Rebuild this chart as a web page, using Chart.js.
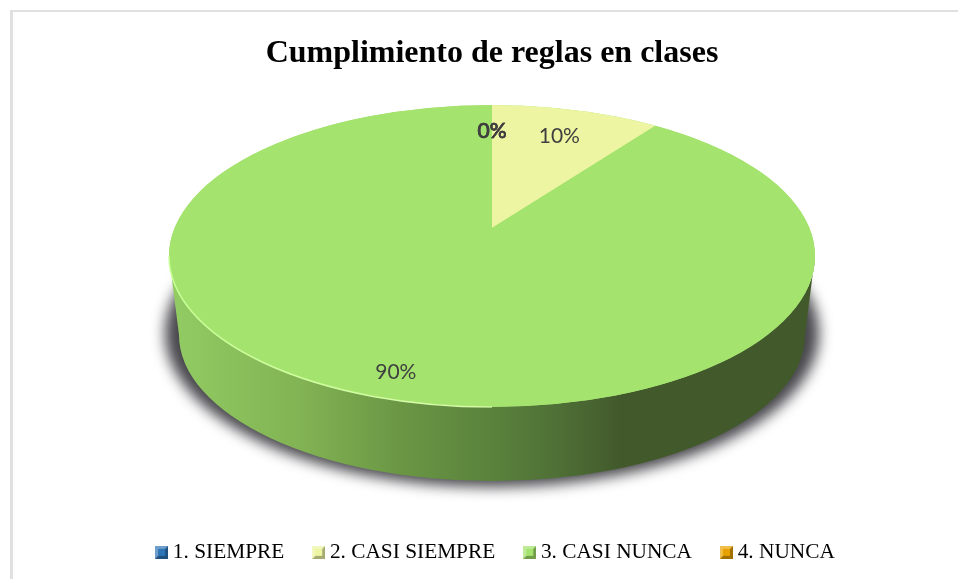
<!DOCTYPE html>
<html>
<head>
<meta charset="utf-8">
<title>Cumplimiento de reglas en clases</title>
<script src="https://cdn.jsdelivr.net/npm/chart.js@4/dist/chart.umd.min.js"></script>
<style>
  html, body { margin: 0; padding: 0; background: #fff; }
  canvas { display: block; }
</style>
</head>
<body>
<canvas id="cuadro" width="958" height="579"></canvas>
<script>
const categorias = ["1. SIEMPRE", "2. CASI SIEMPRE", "3. CASI NUNCA", "4. NUNCA"];
const valores = [0, 10, 90, 0];
const colores = ["#2e75b6", "#edf5a2", "#a4e36d", "#e8a200"];
const titulo = "Cumplimiento de reglas en clases";

// the tilted disc: the apex sits above the centre of the ellipse, like a perspective view
const cara = { cx: 492, cy: 256, rx: 323, ry: 151 };
const base = { cx: 492, cy: 335, rx: 313, ry: 146 };
const apice = { x: 492, y: 228 };
const aplaste = 2.2;

function marcador(color) {
  const c = document.createElement("canvas");
  c.width = 13;
  c.height = 13;
  const g = c.getContext("2d");
  g.fillStyle = color;
  g.fillRect(0, 0, 13, 13);
  g.globalAlpha = 0.3;
  g.fillStyle = "#000";
  g.beginPath(); g.moveTo(13, 0); g.lineTo(13, 13); g.lineTo(0, 13); g.lineTo(3, 10); g.lineTo(10, 10); g.lineTo(10, 3); g.fill();
  g.fillStyle = "#fff";
  g.beginPath(); g.moveTo(0, 0); g.lineTo(13, 0); g.lineTo(10, 3); g.lineTo(3, 3); g.lineTo(3, 10); g.lineTo(0, 13); g.fill();
  g.globalAlpha = 1;
  g.fillStyle = color;
  g.fillRect(3, 3, 7, 7);
  return c;
}
const marcadores = colores.map(marcador);

function elipse(ctx, e) {
  ctx.beginPath();
  ctx.ellipse(e.cx, e.cy, e.rx, e.ry, 0, 0, Math.PI * 2);
}

const pastel3d = {
  id: "pastel3d",
  afterLayout(chart) {
    // the legend sits a little right of the title
    chart.legend.left += 6;
    chart.legend.right += 6;
  },
  beforeDraw(chart) {
    const ctx = chart.ctx;
    ctx.save();
    ctx.fillStyle = "#fff";
    ctx.fillRect(0, 0, chart.width, chart.height);
    ctx.fillStyle = "#e0e0e0";
    ctx.fillRect(10, 10, chart.width - 10, 2);
    ctx.fillRect(10, 10, 3, chart.height - 10);
    ctx.restore();
  },
  beforeDatasetsDraw(chart) {
    const ctx = chart.ctx;
    const a = chart.getDatasetMeta(0).data[0];
    ctx.save();
    // shadow under the disc, the shape itself is drawn off the canvas
    ctx.save();
    ctx.shadowColor = "#47474c";
    ctx.shadowBlur = 14;
    ctx.shadowOffsetX = 2000;
    ctx.fillStyle = "#000";
    elipse(ctx, { cx: base.cx - 2000, cy: 333, rx: base.rx + 14, ry: 154 });
    ctx.fill();
    ctx.restore();
    // side wall
    const grad = ctx.createLinearGradient(170, 0, 815, 0);
    grad.addColorStop(0, "#92cc63");
    grad.addColorStop(0.2, "#82b354");
    grad.addColorStop(0.36, "#6a9644");
    grad.addColorStop(0.5, "#5a823c");
    grad.addColorStop(0.6, "#4f7036");
    grad.addColorStop(0.7, "#42592b");
    grad.addColorStop(1, "#42592b");
    ctx.fillStyle = grad;
    ctx.beginPath();
    ctx.ellipse(base.cx, base.cy, base.rx, base.ry, 0, 0, Math.PI);
    ctx.ellipse(cara.cx, cara.cy, cara.rx, cara.ry, 0, Math.PI, 0, true);
    ctx.closePath();
    ctx.fill();
    // top face, drawn by the library and squashed into the ellipse
    ctx.fillStyle = colores[2];
    elipse(ctx, cara);
    ctx.fill();
    elipse(ctx, cara);
    ctx.clip();
    ctx.translate(apice.x, apice.y);
    ctx.scale(aplaste, 1);
    ctx.translate(-a.x, -a.y);
  },
  afterDatasetsDraw(chart) {
    const ctx = chart.ctx;
    const meta = chart.getDatasetMeta(0);
    ctx.restore();
    // bright rim on the lit side
    const rim = ctx.createLinearGradient(170, 0, 600, 0);
    rim.addColorStop(0, "rgba(200,255,150,1)");
    rim.addColorStop(0.7, "rgba(215,250,170,1)");
    rim.addColorStop(1, "rgba(200,255,150,0)");
    ctx.save();
    ctx.strokeStyle = rim;
    ctx.lineWidth = 1.5;
    ctx.beginPath();
    ctx.ellipse(cara.cx, cara.cy, cara.rx, cara.ry, 0, Math.PI / 2, Math.PI);
    ctx.stroke();
    ctx.restore();
    // labels at 80% of the way from apex to rim, pushed down a bit towards the viewer
    ctx.save();
    ctx.font = "21px Lato, Carlito, sans-serif";
    ctx.fillStyle = "#404040";
    ctx.strokeStyle = "#404040";
    ctx.lineWidth = 0.6;
    ctx.textAlign = "center";
    ctx.textBaseline = "middle";
    meta.data.forEach((arc, i) => {
      const ang = (arc.startAngle + arc.endAngle) / 2;
      const ux = Math.cos(ang) * aplaste, uy = Math.sin(ang);
      const dy0 = apice.y - cara.cy;
      const A = (ux * ux) / (cara.rx * cara.rx) + (uy * uy) / (cara.ry * cara.ry);
      const B = 2 * uy * dy0 / (cara.ry * cara.ry);
      const C = dy0 * dy0 / (cara.ry * cara.ry) - 1;
      const t = (-B + Math.sqrt(B * B - 4 * A * C)) / (2 * A);
      const x = apice.x + ux * t * 0.8;
      const y = apice.y + uy * t * 0.8 + 6 + 4 * uy;
      ctx.fillText(valores[i] + "%", x, y);
      // the two 0% labels land on each other and read heavier
      if (valores[i] === 0) ctx.strokeText(valores[i] + "%", x, y);
    });
    ctx.restore();
  }
};

const cuadro = new Chart(document.getElementById("cuadro"), {
  type: "pie",
  data: {
    labels: categorias,
    datasets: [{
      data: valores,
      backgroundColor: colores,
      borderWidth: 0,
      radius: 195
    }]
  },
  options: {
    responsive: false,
    animation: false,
    layout: { padding: { left: 26, right: 0, top: 31, bottom: 6 } },
    plugins: {
      tooltip: { enabled: false },
      title: {
        display: true,
        text: titulo,
        color: "#000",
        font: { family: "'Liberation Serif', serif", size: 32, weight: "bold" },
        padding: { top: 4, bottom: 8 }
      },
      legend: {
        position: "bottom",
        labels: {
          color: "#000",
          font: { family: "'Liberation Serif', serif", size: 21.33 },
          usePointStyle: true,
          pointStyleWidth: 1,
          boxHeight: 13,
          padding: 34,
          generateLabels(chart) {
            return categorias.map((c, i) => ({
              text: c,
              pointStyle: marcadores[i],
              fontColor: "#000",
              lineWidth: 0,
              index: i
            }));
          }
        }
      }
    }
  },
  plugins: [pastel3d]
});
</script>
</body>
</html>
